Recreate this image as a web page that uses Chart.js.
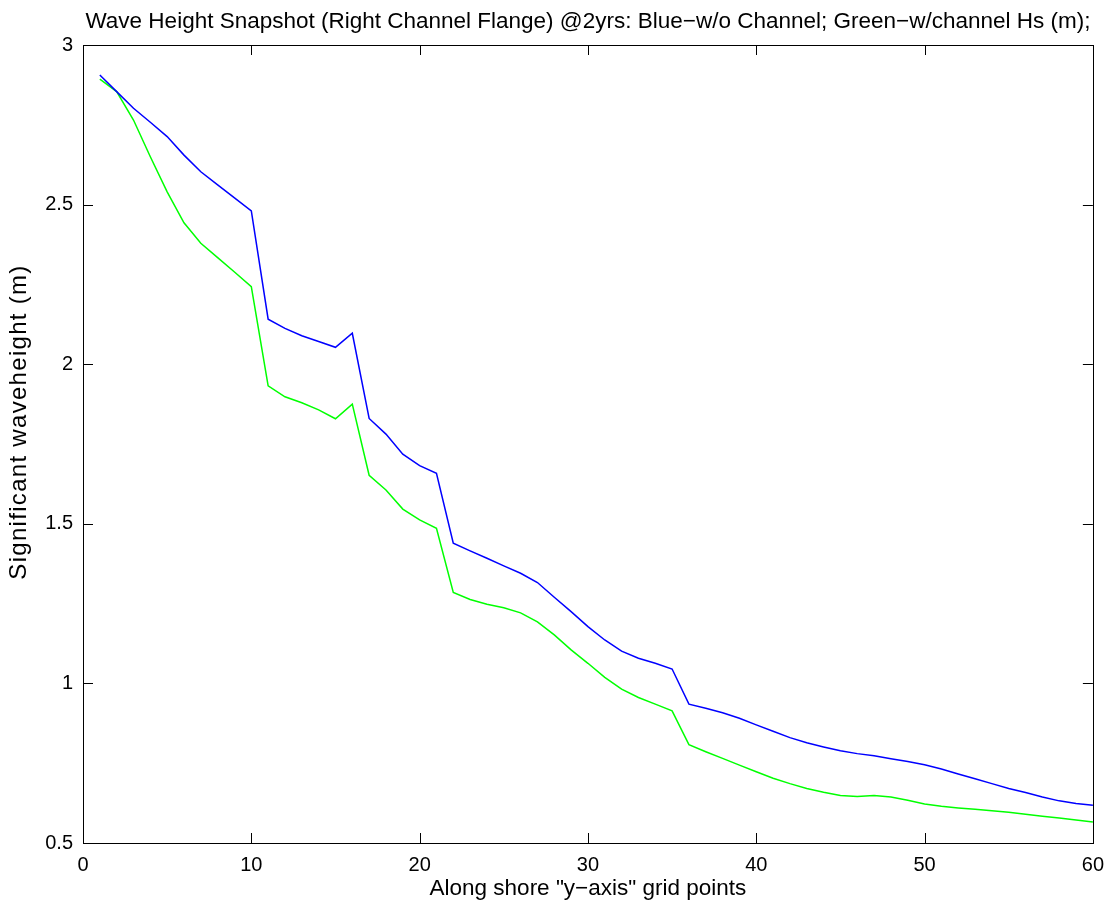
<!DOCTYPE html>
<html>
<head>
<meta charset="utf-8">
<script src="https://cdn.jsdelivr.net/npm/chart.js@4.4.1/dist/chart.umd.min.js"></script>
<style>
  html, body { margin: 0; padding: 0; background: #fff; }
  #wrap { width: 1114px; height: 904px; position: relative; }
</style>
</head>
<body>
<div id="wrap"><canvas id="chart"></canvas></div>
<script>
const gridPoints = [1, 2, 3, 4, 5, 6, 7, 8, 9, 10, 11, 12, 13, 14, 15, 16, 17, 18, 19, 20,
  21, 22, 23, 24, 25, 26, 27, 28, 29, 30, 31, 32, 33, 34, 35, 36, 37, 38, 39, 40,
  41, 42, 43, 44, 45, 46, 47, 48, 49, 50, 51, 52, 53, 54, 55, 56, 57, 58, 59, 60];

// Blue - without channel
const hsNoChannel = [2.906, 2.854, 2.802, 2.758, 2.713, 2.655, 2.603, 2.562, 2.521, 2.480,
  2.141, 2.112, 2.089, 2.071, 2.053, 2.097, 1.830, 1.781, 1.718, 1.682,
  1.658, 1.439, 1.415, 1.392, 1.368, 1.345, 1.316, 1.270, 1.225, 1.178,
  1.136, 1.101, 1.079, 1.063, 1.045, 0.935, 0.922, 0.908, 0.891, 0.870,
  0.850, 0.830, 0.814, 0.801, 0.789, 0.780, 0.773, 0.764, 0.755, 0.745,
  0.732, 0.716, 0.701, 0.686, 0.671, 0.658, 0.644, 0.632, 0.624, 0.618];

// Green - with channel
const hsWithChannel = [2.893, 2.854, 2.765, 2.650, 2.540, 2.443, 2.379, 2.334, 2.289, 2.243,
  1.932, 1.898, 1.879, 1.857, 1.829, 1.875, 1.652, 1.606, 1.546, 1.512,
  1.486, 1.285, 1.263, 1.248, 1.237, 1.221, 1.193, 1.152, 1.105, 1.063,
  1.019, 0.982, 0.956, 0.935, 0.914, 0.808, 0.786, 0.765, 0.744, 0.723,
  0.703, 0.686, 0.671, 0.659, 0.649, 0.646, 0.649, 0.644, 0.634, 0.622,
  0.615, 0.610, 0.606, 0.601, 0.596, 0.590, 0.584, 0.578, 0.572, 0.566];

const xTicks = [0, 10, 20, 30, 40, 50, 60];
const yTicks = [0.5, 1, 1.5, 2, 2.5, 3];

const fontFamily = '"Liberation Sans", Arial, Helvetica, sans-serif';

const toPoints = (values) => gridPoints.map((x, i) => ({ x, y: values[i] }));

// matlab-style box with ticks pointing inward
const boxTicks = {
  id: "boxTicks",
  afterLayout(chart) {
    // rotated y label in the original sits a little high and is spaced out
    const yScale = chart.scales.y;
    if (!yScale._spaced) {
      const drawTitle = yScale.drawTitle.bind(yScale);
      yScale.drawTitle = () => {
        chart.ctx.save();
        chart.ctx.letterSpacing = "1.3px";
        chart.ctx.translate(0, -22);
        drawTitle();
        chart.ctx.restore();
      };
      yScale._spaced = true;
    }
  },
  afterDraw(chart) {
    const { ctx, chartArea: area, scales } = chart;
    const len = 10;
    ctx.save();
    ctx.strokeStyle = "#000";
    ctx.lineWidth = 1;
    ctx.beginPath();
    xTicks.forEach((v) => {
      const px = Math.round(scales.x.getPixelForValue(v)) + 0.5;
      ctx.moveTo(px, area.bottom);
      ctx.lineTo(px, area.bottom - len);
      ctx.moveTo(px, area.top);
      ctx.lineTo(px, area.top + len);
    });
    yTicks.forEach((v) => {
      const py = Math.round(scales.y.getPixelForValue(v)) + 0.5;
      ctx.moveTo(area.left, py);
      ctx.lineTo(area.left + len, py);
      ctx.moveTo(area.right, py);
      ctx.lineTo(area.right - len, py);
    });
    ctx.stroke();
    ctx.strokeRect(Math.round(area.left) + 0.5, Math.round(area.top) + 0.5,
      Math.round(area.right - area.left), Math.round(area.bottom - area.top));
    ctx.restore();
  }
};

new Chart(document.querySelector("#chart"), {
  type: "line",
  data: {
    datasets: [
      {
        label: "Blue-w/o Channel",
        data: toPoints(hsNoChannel),
        borderColor: "#0000ff",
        borderWidth: 1.5,
        pointRadius: 0,
        tension: 0
      },
      {
        label: "Green-w/channel",
        data: toPoints(hsWithChannel),
        borderColor: "#00ff00",
        borderWidth: 1.5,
        pointRadius: 0,
        tension: 0
      }
    ]
  },
  options: {
    responsive: true,
    maintainAspectRatio: false,
    animation: false,
    layout: { padding: { top: 0, right: 20, bottom: 0, left: 0 } },
    plugins: {
      legend: { display: false },
      tooltip: { enabled: false },
      title: {
        display: true,
        fullSize: false,
        text: "Wave Height Snapshot (Right Channel Flange) @2yrs: Blue\u2212w/o Channel; Green\u2212w/channel Hs (m);",
        color: "#000",
        font: { family: fontFamily, size: 22.5, weight: "normal" },
        padding: { top: 8, bottom: 10 }
      }
    },
    scales: {
      x: {
        type: "linear",
        min: 0,
        max: 60,
        afterFit: (scale) => { scale.height = 61; },
        afterBuildTicks: (scale) => { scale.ticks = xTicks.map((value) => ({ value })); },
        grid: { display: false, drawTicks: false },
        border: { display: false },
        ticks: {
          color: "#000",
          padding: 10,
          maxRotation: 0,
          font: { family: fontFamily, size: 20 },
          callback: (v) => String(v)
        },
        title: {
          display: true,
          text: "Along shore \"y\u2212axis\" grid points",
          color: "#000",
          font: { family: fontFamily, size: 22.5 },
          padding: { top: 0, bottom: 2 }
        }
      },
      y: {
        type: "linear",
        min: 0.5,
        max: 3,
        afterFit: (scale) => { scale.width = 83; },
        afterBuildTicks: (scale) => { scale.ticks = yTicks.map((value) => ({ value })); },
        grid: { display: false, drawTicks: false },
        border: { display: false },
        ticks: {
          color: "#000",
          padding: 10,
          font: { family: fontFamily, size: 20 },
          callback: (v) => String(v)
        },
        title: {
          display: true,
          text: "Significant waveheight (m)",
          color: "#000",
          font: { family: fontFamily, size: 24 },
          padding: { top: 5, bottom: 0 }
        }
      }
    }
  },
  plugins: [boxTicks]
});
</script>
</body>
</html>
